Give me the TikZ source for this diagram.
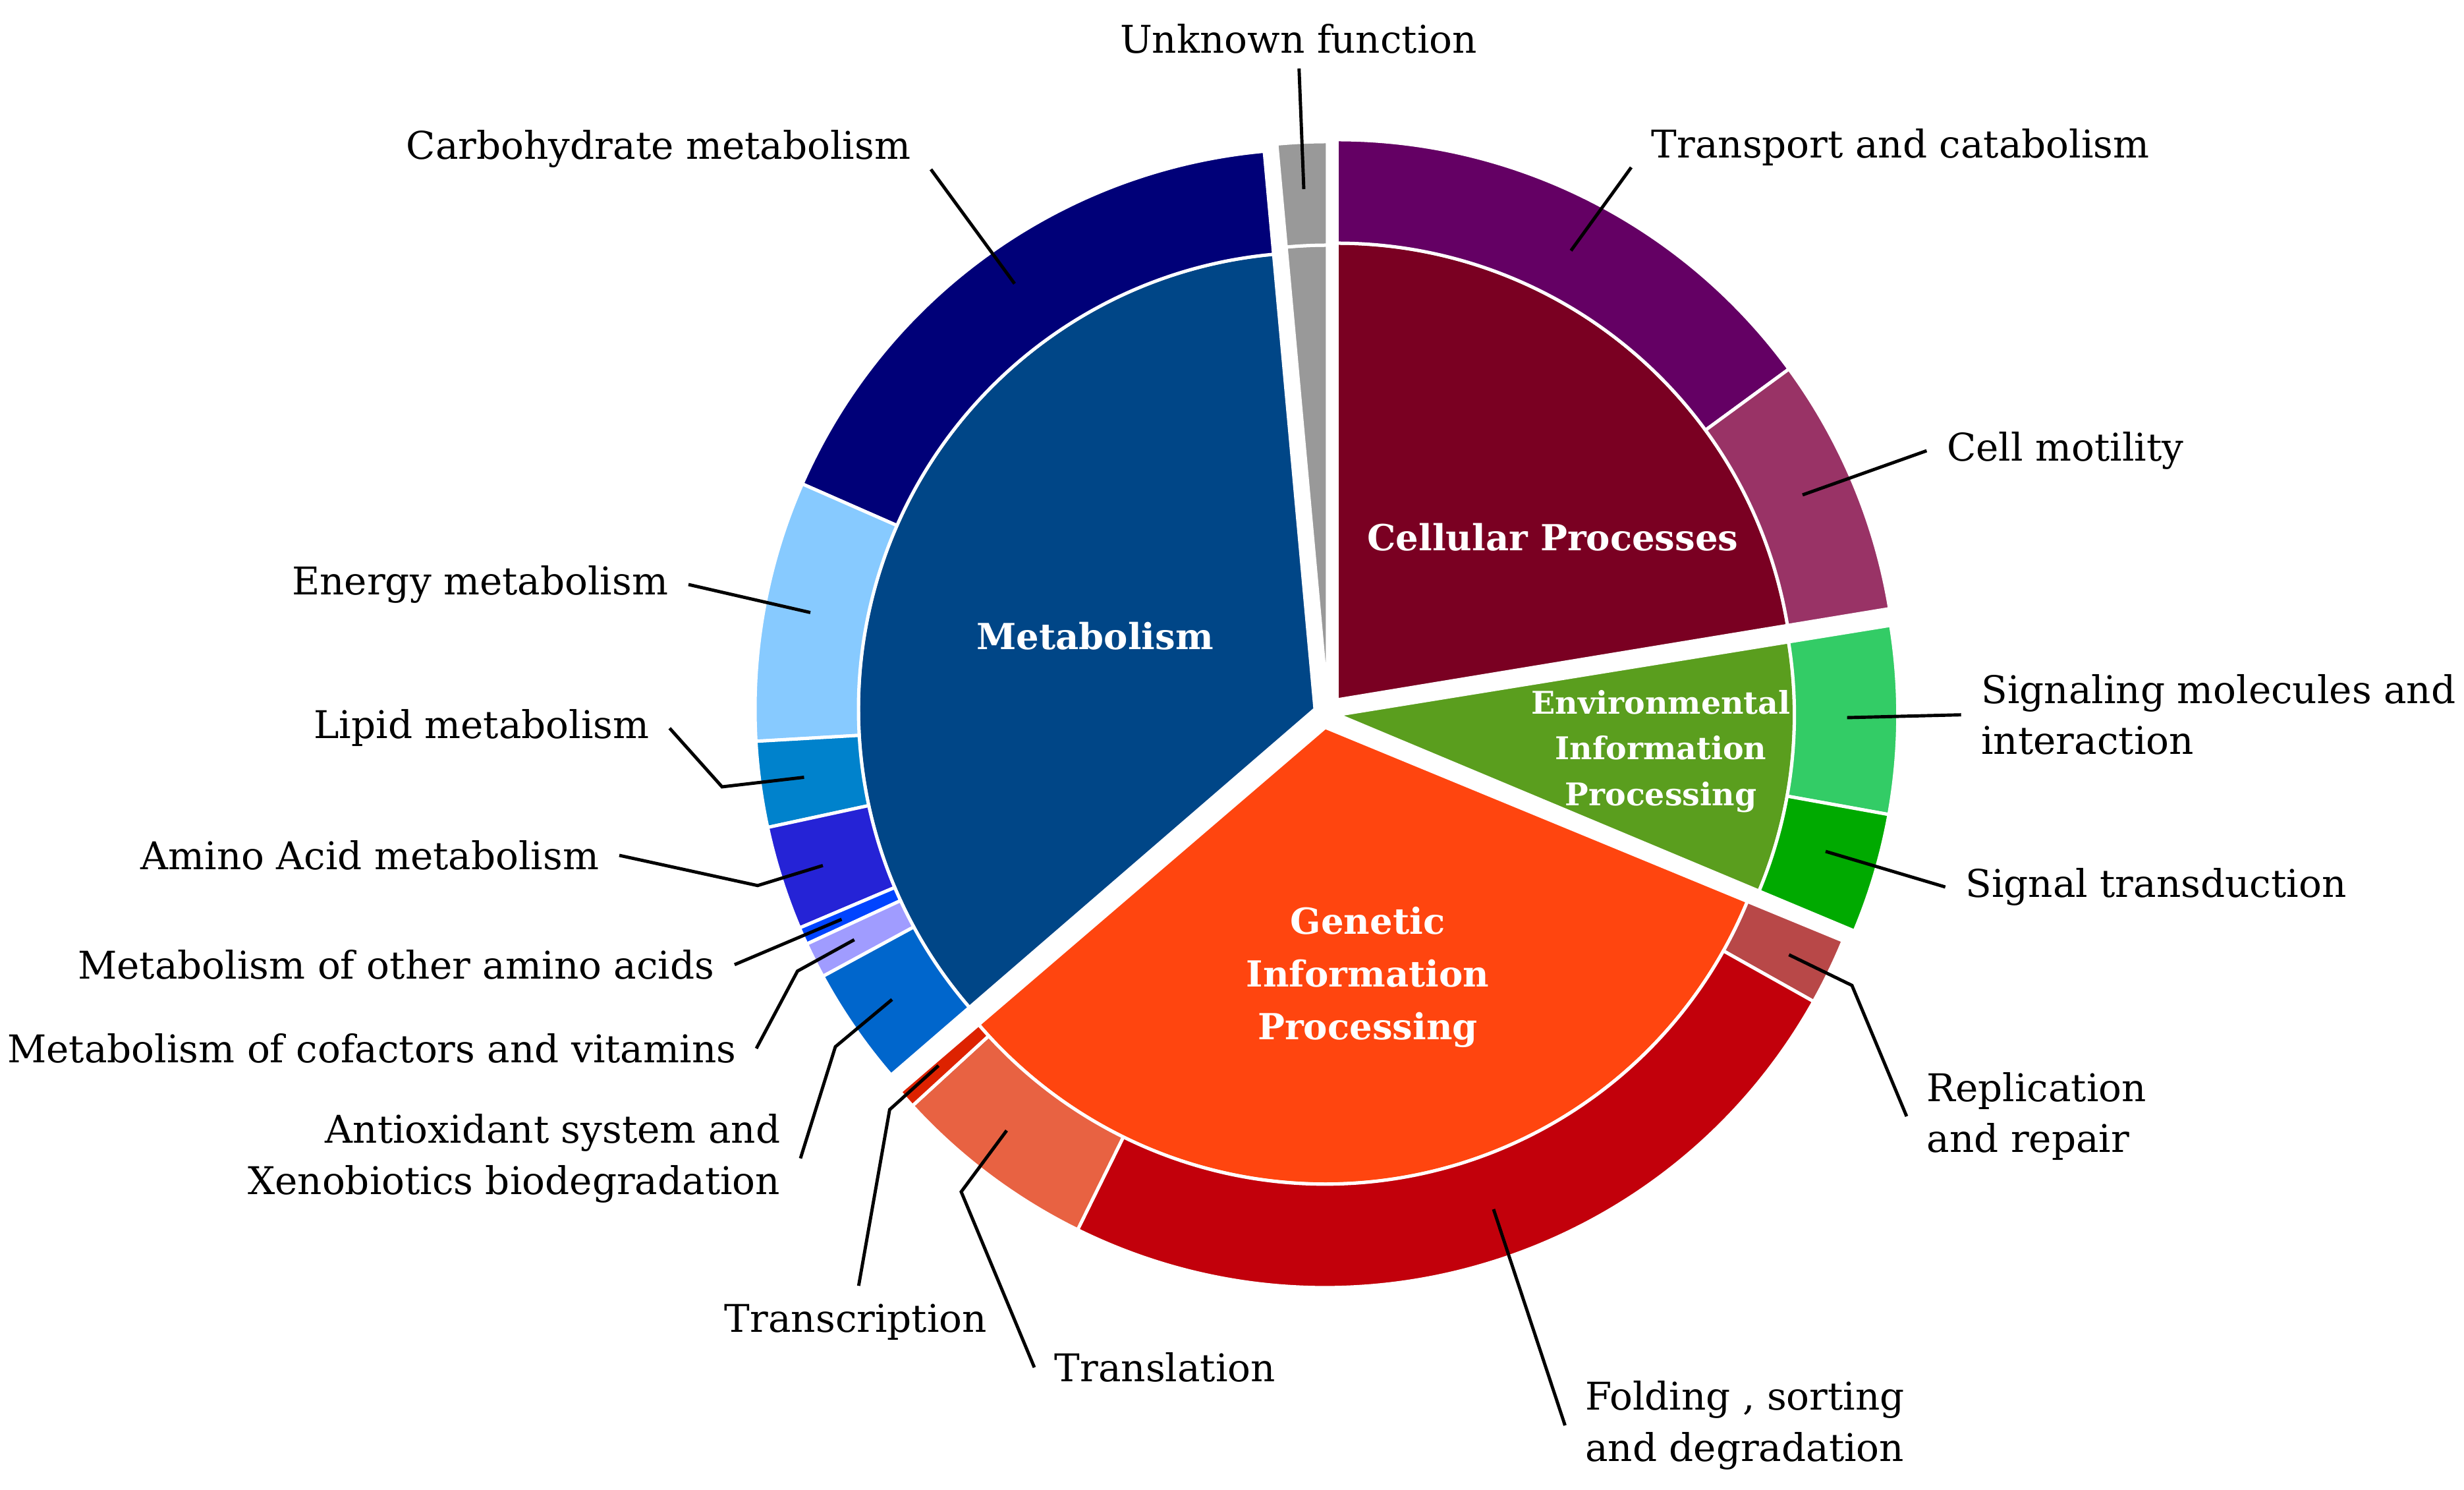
\documentclass[tikz,border=0pt]{standalone}
\usepackage{fontspec}
\setmainfont{DejaVu Serif}
\usepackage{tikz}

\definecolor{metabolism}{RGB}{0,70,135}
\definecolor{carbo}{RGB}{0,0,120}
\definecolor{energy}{RGB}{135,202,255}
\definecolor{lipid}{RGB}{0,130,204}
\definecolor{amino}{RGB}{37,35,214}
\definecolor{otheramino}{RGB}{0,68,255}
\definecolor{cofactor}{RGB}{160,156,255}
\definecolor{antiox}{RGB}{0,102,204}
\definecolor{unknown}{RGB}{153,153,153}
\definecolor{cellular}{RGB}{122,0,34}
\definecolor{transport}{RGB}{100,0,100}
\definecolor{motility}{RGB}{153,51,102}
\definecolor{environ}{RGB}{90,158,30}
\definecolor{signaling}{RGB}{51,204,102}
\definecolor{transduction}{RGB}{0,170,0}
\definecolor{genetic}{RGB}{255,69,15}
\definecolor{replication}{RGB}{184,72,72}
\definecolor{folding}{RGB}{194,0,11}
\definecolor{translation}{RGB}{232,98,66}
\definecolor{transcription}{RGB}{221,34,0}

\newcommand{\pieinner}{6.93}
\newcommand{\pieouter}{8.50}
% inner wedge: colour, start angle, end angle
\newcommand{\wedgepart}[3]{\filldraw[piece, fill=#1] (0,0) -- (#2:\pieinner)
    arc[start angle=#2, end angle=#3, radius=\pieinner] -- cycle;}
% outer ring piece: colour, start angle, end angle
\newcommand{\ringpart}[3]{\filldraw[piece, fill=#1] (#2:\pieinner)
    arc[start angle=#2, end angle=#3, radius=\pieinner] -- (#3:\pieouter)
    arc[start angle=#3, end angle=#2, radius=\pieouter] -- cycle;}

\begin{document}
\begin{tikzpicture}
    % Setup the styles for the pieces and the labels
    \tikzset{piece/.style={draw=white, line width=0.05cm, line join=round},
             outer label/.style={font=\fontsize{16.5}{22}\selectfont,
                                 inner xsep=0.3cm, inner ysep=0.02cm},
             inner label/.style={text=white, align=center,
                                 font=\fontsize{15.5}{22.7}\selectfont\bfseries},
             leader/.style={draw=black, line width=1.4pt}}
    \useasboundingbox[fill=white] (-20.12,-11.78) rectangle (17.28,10.83);

    % Draw the pieces, each main group pulled out a little
    \begin{scope}[shift={(0.175,0.21)}] % Cellular Processes
        \wedgepart{cellular}{9.37}{90}
        \ringpart{transport}{36.2}{90}
        \ringpart{motility}{9.37}{36.2}
    \end{scope}
    \begin{scope}[shift={(0.187,-0.018)}] % Environmental Information Processing
        \wedgepart{environ}{-22.7}{9.2}
        \ringpart{signaling}{-10.25}{9.2}
        \ringpart{transduction}{-22.7}{-10.25}
    \end{scope}
    \begin{scope}[shift={(-0.004,-0.208)}] % Genetic Information Processing
        \wedgepart{genetic}{-139.4}{-22.4}
        \ringpart{replication}{-29.3}{-22.4}
        \ringpart{folding}{-116.25}{-29.3}
        \ringpart{translation}{-137.5}{-116.25}
        \ringpart{transcription}{-139.4}{-137.5}
    \end{scope}
    \begin{scope}[shift={(-0.16,0.07)}] % Metabolism
        \wedgepart{metabolism}{95.2}{220.8}
        \ringpart{carbo}{95.2}{156.3}
        \ringpart{energy}{156.3}{183.3}
        \ringpart{lipid}{183.3}{192.2}
        \ringpart{amino}{192.2}{203}
        \ringpart{otheramino}{203}{204.8}
        \ringpart{cofactor}{204.8}{208.5}
        \ringpart{antiox}{208.5}{220.8}
    \end{scope}
    \begin{scope}[shift={(0.03,0.18)}] % Unknown function
        \wedgepart{unknown}{90}{95.2}
        \ringpart{unknown}{90}{95.2}
    \end{scope}

    % Names of the main groups
    \node[inner label] at (-3.5, 1.18)  (metab) {Metabolism};
    \node[inner label] at (3.45, 2.68)  (cell)  {Cellular Processes};
    \node[inner label, font=\fontsize{13.5}{19.8}\selectfont\bfseries]
                       at (5.09, -0.57) (env)   {Environmental\\Information\\Processing};
    \node[inner label] at (0.64, -4.0)  (gen)   {Genetic\\Information\\Processing};

    % Names of the sub groups
    \node[outer label, anchor=south] at (-0.41, 9.99) (unknown) {Unknown function};
    \node[outer label, anchor=south east] at (-5.99, 8.26) (carbo) {Carbohydrate metabolism};
    \node[outer label, anchor=east] at (-9.67, 1.96)  (energy) {Energy metabolism};
    \node[outer label, anchor=east] at (-9.956, -0.22) (lipid) {Lipid metabolism};
    \node[outer label, anchor=east] at (-10.72, -2.15) (amino) {Amino Acid metabolism};
    \node[outer label, anchor=east] at (-8.97, -3.808) (otheramino) {Metabolism of other amino acids};
    \node[outer label, anchor=east] at (-8.64, -5.08) (cofactor) {Metabolism of cofactors and vitamins};
    \node[outer label, anchor=east, align=right] at (-7.97, -6.748) (antiox)
        {Antioxidant system and\\Xenobiotics biodegradation};
    \node[outer label] at (-7.13, -9.228) (transcr) {Transcription};
    \node[outer label, anchor=west] at (-4.42, -9.92) (transl) {Translation};
    \node[outer label, anchor=west, align=left] at (3.635, -10.80) (folding)
        {Folding , sorting\\and degradation};
    \node[outer label, anchor=west, align=left] at (8.82, -6.11) (replic)
        {Replication\\and repair};
    \node[outer label, anchor=west] at (9.407, -2.63) (transd) {Signal transduction};
    \node[outer label, anchor=west, align=left] at (9.647, -0.017) (signal)
        {Signaling molecules and\\interaction};
    \node[outer label, anchor=west] at (9.124, 3.99) (motility) {Cell motility};
    \node[outer label, anchor=south west] at (4.64, 8.29) (transport) {Transport and catabolism};

    % Points inside the ring that the leaders go to
    \coordinate (unknown-in) at (-0.33, 7.96);
    \coordinate (carbo-in) at (-4.72, 6.525);
    \coordinate (energy-in) at (-7.82, 1.535);
    \coordinate (lipid-bend) at (-9.16, -1.11);
    \coordinate (lipid-in) at (-7.915, -0.965);
    \coordinate (amino-bend) at (-8.62, -2.608);
    \coordinate (amino-in) at (-7.63, -2.304);
    \coordinate (otheramino-in) at (-7.345, -3.12);
    \coordinate (cofactor-bend) at (-8.015, -3.906);
    \coordinate (cofactor-in) at (-7.153, -3.43);
    \coordinate (antiox-bend) at (-7.44, -5.054);
    \coordinate (antiox-in) at (-6.58, -4.337);
    \coordinate (transcr-bend) at (-6.616, -6.008);
    \coordinate (transcr-in) at (-5.874, -5.34);
    \coordinate (transl-bend) at (-5.53, -7.255);
    \coordinate (transl-in) at (-4.84, -6.325);
    \coordinate (folding-in) at (2.55, -7.52);
    \coordinate (replic-bend) at (7.99, -4.123);
    \coordinate (replic-in) at (7.034, -3.658);
    \coordinate (transd-in) at (7.59, -2.09);
    \coordinate (signal-in) at (7.916, -0.06);
    \coordinate (motility-in) at (7.24, 3.32);
    \coordinate (transport-in) at (3.725, 7.026);

    % Connect the names with the pieces
    \draw[leader]
        (carbo.south east) -- (carbo-in)
        (energy.east) -- (energy-in)
        (lipid.east) -- (lipid-bend) -- (lipid-in)
        (amino.east) -- (amino-bend) -- (amino-in)
        (otheramino.east) -- (otheramino-in)
        (cofactor.east) -- (cofactor-bend) -- (cofactor-in)
        (antiox.east) -- (antiox-bend) -- (antiox-in)
        (transl.west) -- (transl-bend) -- (transl-in)
        (folding.west) -- (folding-in)
        (replic.west) -- (replic-bend) -- (replic-in)
        (transd.west) -- (transd-in)
        (signal.west) -- (signal-in)
        (motility.west) -- (motility-in)
        (transport.south west) -- (transport-in);
    \draw[leader, shorten <=0.2cm] (unknown.south) -- (unknown-in);
    \draw[leader, shorten <=0.25cm] (transcr.north) -- (transcr-bend) -- (transcr-in);
\end{tikzpicture}
\end{document}
